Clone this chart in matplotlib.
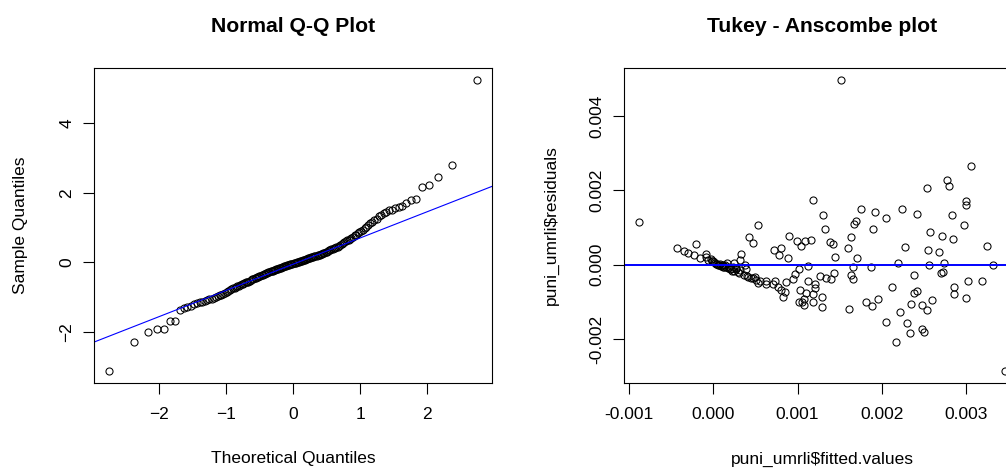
import numpy as np
import matplotlib.pyplot as plt
from matplotlib.ticker import FormatStrFormatter
from statistics import NormalDist

plt.rcParams['font.family'] = ['Liberation Sans', 'DejaVu Sans']

# standardized residuals, sorted (sample quantiles of the Q-Q plot)
sample_q = [
    -3.14, -2.30, -2.00, -1.93, -1.91, -1.69, -1.68, -1.37, -1.33, -1.29,
    -1.25, -1.20, -1.17, -1.15, -1.13, -1.11, -1.09, -1.07, -1.06, -1.04,
    -1.01, -0.98, -0.95, -0.93, -0.90, -0.87, -0.85, -0.82, -0.79, -0.77,
    -0.75, -0.73, -0.71, -0.69, -0.67, -0.65, -0.63, -0.62, -0.60, -0.58,
    -0.57, -0.565, -0.53, -0.52, -0.49, -0.48, -0.46, -0.45, -0.43, -0.41,
    -0.40, -0.38, -0.37, -0.36, -0.34, -0.33, -0.31, -0.30, -0.29, -0.28,
    -0.26, -0.25, -0.24, -0.22, -0.21, -0.20, -0.19, -0.18, -0.17, -0.16,
    -0.15, -0.14, -0.13, -0.12, -0.11, -0.10, -0.09, -0.08, -0.07, -0.06,
    -0.05, -0.04, -0.03, -0.02, -0.01, 0.00, 0.01, 0.02, 0.03, 0.04,
    0.05, 0.06, 0.07, 0.08, 0.09, 0.10, 0.11, 0.12, 0.13, 0.14,
    0.15, 0.16, 0.17, 0.18, 0.19, 0.20, 0.21, 0.22, 0.23, 0.25,
    0.26, 0.27, 0.29, 0.30, 0.32, 0.34, 0.36, 0.38, 0.39, 0.40,
    0.42, 0.44, 0.45, 0.47, 0.49, 0.52, 0.55, 0.58, 0.60, 0.63,
    0.65, 0.68, 0.71, 0.74, 0.78, 0.80, 0.83, 0.86, 0.90, 0.94,
    0.98, 1.02, 1.08, 1.13, 1.17, 1.22, 1.25, 1.32, 1.35, 1.42,
    1.44, 1.50, 1.52, 1.57, 1.59, 1.63, 1.70, 1.78, 1.81, 2.17,
    2.23, 2.46, 2.80, 5.26,
]

# Tukey-Anscombe: fitted values and residuals (in units of 1e-3)
fitted = [
    -0.887, -0.428, -0.352, -0.305, -0.234, -0.202, -0.162, -0.083, -0.083, -0.063,
    -0.032, -0.004, 0.020, 0.036, 0.067, 0.095, 0.115, 0.154, 0.162, 0.194,
    0.226, 0.242, 0.273, 0.305, 0.321, 0.333, 0.372, 0.392, 0.420, 0.412,
    0.451, 0.471, 0.491, 0.511, 0.527, 0.531, 0.622, 0.630, 0.709, 0.721,
    0.729, 0.768, 0.776, 0.800, 0.808, 0.828, 0.848, 0.859, 0.887, 0.895,
    0.947, 0.974, 0.994, 1.014, 1.014, 1.034, 1.042, 1.057, 1.073, 1.077,
    1.089, 1.105, 1.121, 1.121, 1.164, 1.184, 1.188, 1.184, 1.204, 1.208,
    1.271, 1.291, 1.291, 1.307, 1.323, 1.343, 1.382, 1.402, 1.422, 1.434,
    1.442, 1.517, 1.604, 1.608, 1.632, 1.640, 1.663, 1.663, 1.675, 1.695,
    1.703, 1.758, 1.818, 1.877, 1.889, 1.901, 1.917, 1.956, 2.044, 2.055,
    2.127, 2.174, 2.194, 2.222, 2.234, 2.281, 2.301, 2.333, 2.345, 2.388,
    2.380, 2.412, 2.416, 2.483, 2.483, 2.499, 2.535, 2.535, 2.551, 2.562,
    2.578, 2.598, 2.681, 2.705, 2.717, 2.729, 2.733, 2.776, 2.800, 2.828,
    2.848, 2.859, 2.855, 2.974, 2.994, 2.998, 2.998, 3.018, 3.065, 3.184,
    3.252, 3.323, 3.461,
    0.005, 0.045, 0.060, 0.080, 0.110, 0.130, 0.170, 0.210, 0.250, 0.290,
    0.360, 0.400, 0.470, 0.550, -0.020, 0.100, 0.140, 0.190, 0.270, 0.320,
    0.230,
]
resid = [
    1.144, 0.459, 0.378, 0.306, 0.261, 0.550, 0.180, 0.288, 0.198, 0.126,
    0.144, 0.090, 0.054, 0.018, 0.000, -0.036, 0.000, -0.072, 0.054, -0.126,
    -0.162, 0.054, -0.126, -0.234, 0.126, 0.279, 0.000, -0.126, 0.757, -0.324,
    -0.369, 0.577, -0.324, -0.414, 1.054, -0.486, -0.450, -0.523, -0.523, 0.387,
    -0.432, -0.595, 0.252, 0.441, -0.667, -0.865, -0.730, -0.477, 0.180, 0.784,
    -0.378, -0.261, 0.640, -0.108, -0.991, -0.667, 0.514, -0.991, -0.910, -1.072,
    0.640, -0.757, -0.027, -0.450, 0.658, -1.000, 1.748, -0.775, -0.622, -0.523,
    -0.306, -0.874, -1.144, 1.324, 0.964, -0.369, 0.622, -0.396, 0.559, -0.234,
    0.207, 4.973, 0.441, -1.180, 0.757, -0.279, -0.063, -0.396, 1.081, 1.171,
    0.180, 1.505, -0.991, -0.063, -1.117, 0.964, 1.414, -0.910, -1.532, 1.261,
    -0.604, -2.081, 0.036, -1.270, 1.505, 0.486, -1.568, -1.838, -1.054, -0.270,
    -0.757, -0.703, 1.351, -1.072, -1.730, -1.802, -1.225, 2.054, 0.387, 0.000,
    0.874, -0.955, 0.333, -0.234, 0.784, -0.189, 0.036, 2.288, 2.108, 1.324,
    0.685, -0.604, -0.775, 1.054, 1.703, 1.613, -0.901, -0.450, 2.658, -0.450,
    0.514, 0.000, -2.865,
    0.070, 0.030, -0.020, 0.010, -0.050, -0.060, -0.090, -0.120, -0.170, -0.190,
    -0.270, -0.300, -0.360, -0.430, 0.100, -0.010, 0.000, -0.050, -0.100, -0.150,
    -0.070,
]

left_xticks = [-2, -1, 0, 1, 2]
left_yticks = [-2, 0, 2, 4]
right_xticks = [-0.001, 0.000, 0.001, 0.002, 0.003]
right_yticks = [-0.002, 0.000, 0.002, 0.004]

W, H = 1006, 468
fig = plt.figure(figsize=(W / 100, H / 100), dpi=100)

def rlim(v):
    lo, hi = min(v), max(v)
    d = 0.04 * (hi - lo)
    return lo - d, hi + d

def style(ax):
    for s in ax.spines.values():
        s.set_linewidth(0.8)
    ax.tick_params(length=8, width=0.8, labelsize=12.5, direction='out',
                   top=False, right=False)
    ax.tick_params(axis='x', pad=9)
    ax.tick_params(axis='y', pad=6, labelrotation=90)
    for lab in ax.get_yticklabels():
        lab.set_verticalalignment('center')

# ---- Normal Q-Q plot
y = np.array(sample_q)
n = len(y)
nd = NormalDist()
x = np.array([nd.inv_cdf((i - 0.5) / n) for i in range(1, n + 1)])

ax1 = fig.add_axes([94 / W, 1 - 383 / H, 398 / W, 315 / H])
ax1.plot(x, y, 'o', mfc='none', mec='black', ms=5.1, mew=0.75)
q1, q3 = np.quantile(y, [0.25, 0.75])
z1, z3 = nd.inv_cdf(0.25), nd.inv_cdf(0.75)
slope = (q3 - q1) / (z3 - z1)
icpt = q1 - slope * z1
ax1.axline((0, icpt), slope=slope, color='blue', lw=0.8)
ax1.set_xlim(rlim(x))
ax1.set_ylim(rlim(y))
ax1.set_xticks(left_xticks)
ax1.set_yticks(left_yticks)
style(ax1)

# ---- Tukey - Anscombe
fv = np.array(fitted) * 1e-3
rv = np.array(resid) * 1e-3
ax2 = fig.add_axes([624 / W, 1 - 383 / H, 395.5 / W, 315 / H])
ax2.plot(fv, rv, 'o', mfc='none', mec='black', ms=5.1, mew=0.75)
ax2.axhline(0, color='blue', lw=1.4)
ax2.set_xlim(rlim(fv))
ax2.set_ylim(rlim(rv))
ax2.set_xticks(right_xticks)
ax2.set_yticks(right_yticks)
ax2.xaxis.set_major_formatter(FormatStrFormatter('%.3f'))
ax2.yaxis.set_major_formatter(FormatStrFormatter('%.3f'))
style(ax2)

# titles and axis labels
fig.text(293 / W, 1 - 26 / H, 'Normal Q-Q Plot', ha='center', va='center',
         fontsize=15.2, fontweight='bold')
fig.text(822 / W, 1 - 26 / H, 'Tukey - Anscombe plot', ha='center', va='center',
         fontsize=15.2, fontweight='bold')
fig.text(293 / W, 1 - 459 / H, 'Theoretical Quantiles', ha='center', va='center',
         fontsize=12.5)
fig.text(822 / W, 1 - 459 / H, 'puni_umrli$fitted.values', ha='center', va='center',
         fontsize=12.5)
fig.text(21 / W, 1 - 225 / H, 'Sample Quantiles', ha='center', va='center',
         rotation=90, fontsize=12.5)
fig.text(551 / W, 1 - 225 / H, 'puni_umrli$residuals', ha='center', va='center',
         rotation=90, fontsize=12.5)

fig.savefig('out.png', dpi=100)
